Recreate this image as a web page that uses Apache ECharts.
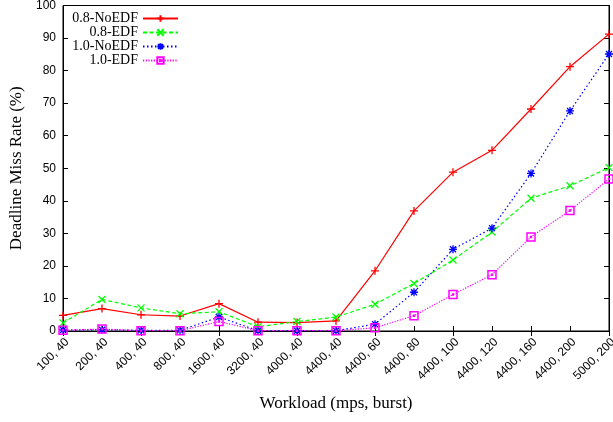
<!DOCTYPE html>
<html>
<head>
<meta charset="utf-8">
<script src="https://cdn.jsdelivr.net/npm/echarts@6/dist/echarts.min.js"></script>
<style>
  html, body { margin: 0; padding: 0; background: #fff; }
  #chart { width: 613px; height: 422px; }
</style>
</head>
<body>
<div id="chart"></div>
<script>
const categories = ['100, 40', '200, 40', '400, 40', '800, 40', '1600, 40', '3200, 40', '4000, 40', '4400, 40',
  '4400, 60', '4400, 80', '4400, 100', '4400, 120', '4400, 160', '4400, 200', '5000, 200'];
const noEdf08 = [4.8, 6.9, 5.0, 4.6, 8.4, 2.7, 2.6, 3.1, 18.5, 36.9, 48.8, 55.5, 68.2, 81.2, 91.2];
const edf08 = [2.5, 9.7, 7.1, 5.3, 5.9, 1.3, 2.9, 4.3, 8.2, 14.6, 21.8, 30.4, 40.8, 44.6, 50.2];
const noEdf10 = [0.3, 0.4, 0.2, 0.2, 4.3, 0.1, 0.1, 0.1, 2.1, 11.9, 25.1, 31.6, 48.4, 67.6, 85.1];
const edf10 = [0.2, 0.6, 0.1, 0.1, 2.9, 0.1, 0.1, 0.1, 1.0, 4.7, 11.2, 17.3, 28.9, 37.0, 46.7];

const plusPath = 'path://M0,-1L0,1M-1,0L1,0';
const crossPath = 'path://M-1,-1L1,1M-1,1L1,-1';
const starPath = 'path://M0,-1L0,1M-1,0L1,0M-0.75,-0.75L0.75,0.75M-0.75,0.75L0.75,-0.75';
// hollow square with a small dot in the middle, gnuplot style
const squarePath = 'path://M-1,-1L1,-1L1,1L-1,1ZM-0.12,-0.12L0.12,-0.12L0.12,0.12L-0.12,0.12Z';

function makeSeries(name, data, color, type, symbol, size, hollow) {
  return {
    name: name,
    type: 'line',
    data: data,
    symbol: symbol,
    symbolSize: size,
    showAllSymbol: true,
    lineStyle: { color: color, width: 1.2, type: type },
    itemStyle: {
      color: hollow ? 'rgba(255,255,255,0)' : color,
      borderColor: color,
      borderWidth: hollow ? 1.5 : 1.3
    },
    emphasis: { disabled: true }
  };
}

const chart = echarts.init(document.getElementById('chart'));
chart.setOption({
  animation: false,
  grid: {
    left: 63, right: 4, top: 5.5, bottom: 91,
    outerBoundsMode: 'none',
    show: true, borderColor: '#000', borderWidth: 1
  },
  legend: {
    orient: 'vertical',
    left: 57,
    top: 11.5,
    align: 'right',
    padding: 0,
    itemGap: 0,
    itemWidth: 35,
    itemHeight: 8,
    textStyle: { fontFamily: 'Liberation Serif', fontSize: 14, color: '#000', width: 81, align: 'right', lineHeight: 13.3 }
  },
  xAxis: [{
    type: 'category',
    data: categories,
    boundaryGap: false,
    name: 'Workload (mps, burst)',
    nameLocation: 'middle',
    nameGap: 64,
    nameTextStyle: { fontFamily: 'Liberation Serif', fontSize: 17, color: '#000' },
    axisLine: { lineStyle: { color: '#000' } },
    axisTick: { inside: true, length: 5, lineStyle: { color: '#000' } },
    axisLabel: { rotate: 45, margin: 5, verticalAlign: 'top', interval: 0, fontFamily: 'Liberation Sans', fontSize: 12, color: '#000' },
    splitLine: { show: false }
  }, {
    type: 'category',
    data: categories,
    boundaryGap: false,
    position: 'top',
    axisLine: { lineStyle: { color: '#000' } },
    axisTick: { inside: true, length: 5, lineStyle: { color: '#000' } },
    axisLabel: { show: false },
    splitLine: { show: false }
  }],
  yAxis: [{
    type: 'value',
    min: 0,
    max: 100,
    interval: 10,
    name: 'Deadline Miss Rate (%)',
    nameLocation: 'middle',
    nameGap: 37,
    nameTextStyle: { fontFamily: 'Liberation Serif', fontSize: 17, color: '#000' },
    axisLine: { show: true, lineStyle: { color: '#000' } },
    axisTick: { show: true, inside: true, length: 5, lineStyle: { color: '#000' } },
    axisLabel: { margin: 7, fontFamily: 'Liberation Sans', fontSize: 12, color: '#000' },
    splitLine: { show: false }
  }, {
    type: 'value',
    min: 0,
    max: 100,
    interval: 10,
    position: 'right',
    axisLine: { show: true, lineStyle: { color: '#000' } },
    axisTick: { show: true, inside: true, length: 5, lineStyle: { color: '#000' } },
    axisLabel: { show: false },
    splitLine: { show: false }
  }],
  series: [
    makeSeries('0.8-NoEDF', noEdf08, '#ff0000', 'solid', plusPath, 8, false),
    makeSeries('0.8-EDF', edf08, '#00ff00', [4, 2.5], crossPath, 7, false),
    makeSeries('1.0-NoEDF', noEdf10, '#0000ff', [1.5, 2.5], starPath, 8, false),
    makeSeries('1.0-EDF', edf10, '#ff00ff', [1.2, 1.5], squarePath, 8, true)
  ]
});
</script>
</body>
</html>
